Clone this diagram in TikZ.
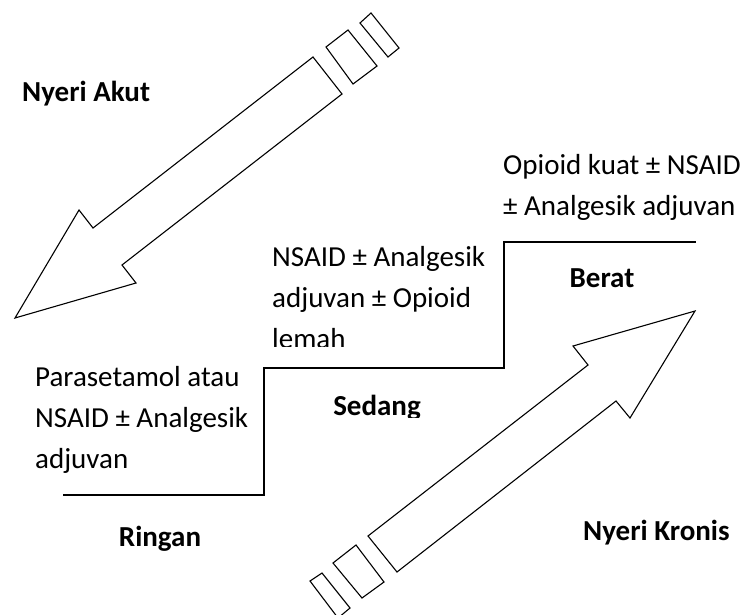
\documentclass[tikz,border=0pt]{standalone}
\usepackage{fontspec}
\setmainfont{Carlito}
\begin{document}
\begin{tikzpicture}[x=1pt,y=-1pt,
  txt/.style={inner sep=0pt,anchor=base west,font=\fontsize{29}{35}\selectfont},
  lbl/.style={inner sep=0pt,anchor=base,font=\fontsize{29}{35}\selectfont\bfseries},
  stair/.style={line width=1.5pt},
  shaft/.style={draw=black,fill=white,line width=1.1pt,line join=miter}]
\useasboundingbox (0,0) rectangle (744,615);
% staircase
\coordinate (s0) at (63,495);
\coordinate (s1) at (264,495);
\coordinate (s2) at (264,368);
\coordinate (s3) at (504,368);
\coordinate (s4) at (504,242);
\coordinate (s5) at (696,242);
\draw[stair] (s0) -- (s1) -- (s2) -- (s3) -- (s4) -- (s5);
% top arrow (acute pain)
\draw[shaft] (313,57) -- (93,228) -- (79,210) -- (15,318) -- (136,283) -- (122,265) -- (342,94) -- cycle;
\draw[shaft] (326,47) -- (348,30) -- (377,66) -- (353,84) -- cycle;
\draw[shaft] (360,23) -- (371,13) -- (399,48) -- (388,57) -- cycle;
% bottom arrow (chronic pain)
\begin{scope}
\clip (0,0) rectangle (744,615);
\draw[shaft] (368,536) -- (588,365) -- (573,346) -- (695,311) -- (630,418) -- (616,401) -- (397,572) -- cycle;
\draw[shaft] (333,563) -- (356,545) -- (384,582) -- (362,598) -- cycle;
\draw[shaft] (310,581) -- (322,573) -- (350,608) -- (338,618) -- cycle;
\end{scope}
% texts
\node[lbl,anchor=base west] (akut) at (22,102) {Nyeri Akut};
\node[lbl,anchor=base west] (kronis) at (583,540) {Nyeri Kronis};
\node[txt] (r1) at (35,386) {Parasetamol atau};
\node[txt] (r2) at (35,427) {NSAID ± Analgesik};
\node[txt] (r3) at (35,468) {adjuvan};
\node[lbl] (ringan) at (160,546) {Ringan};
\begin{scope}
\clip (260,230) rectangle (500,346);
\node[txt] (m1) at (272,266) {NSAID ± Analgesik};
\node[txt] (m2) at (272,307) {adjuvan ± Opioid};
\node[txt] (m3) at (272,348) {lemah};
\end{scope}
\begin{scope}
\clip (300,380) rectangle (470,417);
\node[lbl] (sedang) at (377,415) {Sedang};
\end{scope}
\node[txt] (b1) at (503,174) {Opioid kuat ± NSAID};
\node[txt] (b2) at (503,215) {± Analgesik adjuvan};
\node[lbl] (berat) at (602,287) {Berat};
\end{tikzpicture}
\end{document}
